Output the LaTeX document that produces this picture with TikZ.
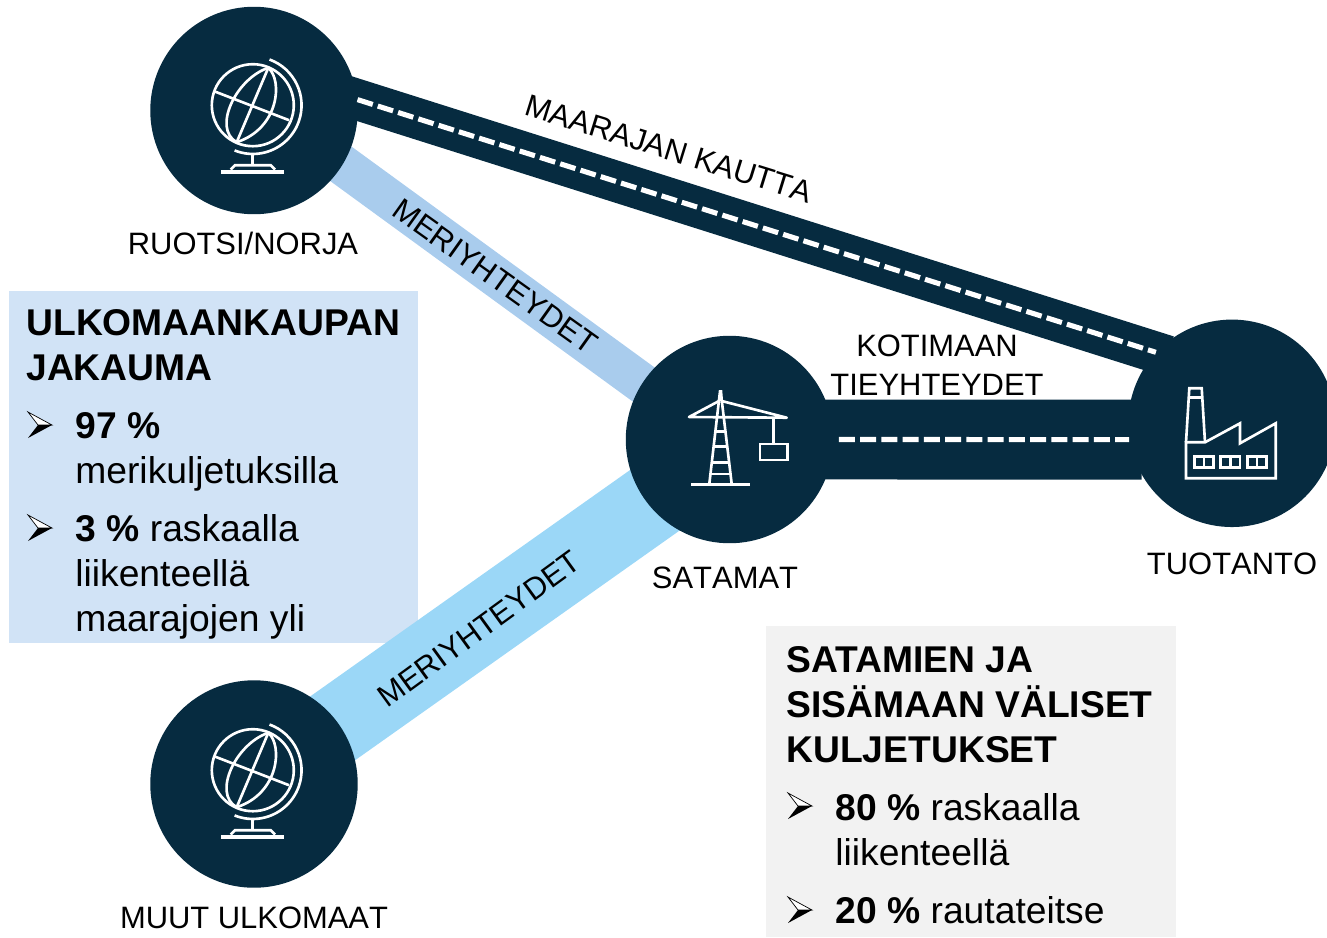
\documentclass[tikz,border=0pt]{standalone}
\usepackage{fontspec}
\setmainfont{Liberation Sans}
\newfontfamily\labelfont[Kerning=Off]{Liberation Sans}
\usetikzlibrary{backgrounds}
\definecolor{navy}{HTML}{062B40}
\definecolor{seablue}{HTML}{A9CCED}
\definecolor{seacyan}{HTML}{9BD7F7}
\definecolor{boxblue}{HTML}{D1E3F6}
\definecolor{boxgray}{HTML}{F2F2F2}
\tikzset{
  hub/.style={circle, fill=navy, minimum size=4.15cm, inner sep=0},
  road/.style={navy, line width=#1, shorten <=-7pt, shorten >=-7pt},
  lane/.style={white, line width=2.9pt, dash pattern=on 9.1pt off 3pt},
  label/.style={font=\labelfont\fontsize{17.6pt}{22pt}\selectfont, inner sep=0, anchor=base},
  tilted/.style={font=\labelfont\fontsize{17.6pt}{22pt}\selectfont, inner sep=0, rotate=#1},
  body/.style={font=\fontsize{21.2pt}{25.6pt}\selectfont, inner sep=0, anchor=base west, align=left},
  icon/.style={white, line width=1.5pt},
  globe/.pic={
      \draw[icon] (-1.2,-5.3) circle [radius=41];
      \draw[icon] (14.3,-42.7) -- (-17.3,31.7);
      \draw[icon] (-40,-19.3) -- (35,9.7);
      \draw[icon] (14.3,-42.7) .. controls (-18,-32) and (-42,18) .. (-17.3,31.7);
      \draw[icon] (14.3,-42.7) .. controls (29,-30) and (25,18) .. (-17.3,31.7);
      \draw[icon] (15.5,-51) arc [start angle=-70, end angle=112, radius=48.7];
      \draw[icon] (-1.3,44) -- (-1.3,54.7);
      \draw[icon] (-23.3,59) -- (-19,54.7) -- (16.7,54.7) -- (21,59);
      \draw[icon, line width=2pt] (-33,61.7) -- (30,61.7);
    },
  crane/.pic={
      \draw[icon] (-20.2,44.5) -- (-10.5,-39.5) -- (-9.5,-48) -- (-8.5,-48) -- (-7.8,-39.5) -- (2.2,44.5);
      \draw[icon] (-38.5,44.8) -- (20.8,44.8);
      \draw[icon, line join=round] (-10.5,-38.5) -- (-40.5,-22.5) -- (57.2,-21.8) -- (-7.8,-38.5);
      \draw[icon] (-14.2,-7.8) -- (-4,-7.8);
      \draw[icon] (-15.9,7.2) -- (-2.2,7.2);
      \draw[icon] (-17.7,23.2) -- (-.3,23.2);
      \draw[icon] (-19,34.5) -- (1,34.5);
      \draw[icon] (43.8,-21.8) -- (43.8,4.5);
      \draw[icon] (30.5,4.5) rectangle (57.8,20.5);
    },
  factory/.pic={
      \draw[icon] (-46,19) -- (-46,55) -- (43.7,55) -- (43.7,0) -- (8,20) -- (8,0) -- (-27,19) -- cycle;
      \draw[icon] (-46,19) -- (-42.7,-35) -- (-30.3,-35) -- (-27,19);
      \draw[icon] (-42.7,-26) -- (-30.3,-26);
      \draw[icon] (-37.7,33.3) rectangle (-18.7,44);
      \draw[icon] (-28.2,33.3) -- (-28.2,44);
      \draw[icon] (-11.3,33.3) rectangle (8,44);
      \draw[icon] (-1.7,33.3) -- (-1.7,44);
      \draw[icon] (15.3,33.3) rectangle (34.7,44);
      \draw[icon] (25,33.3) -- (25,44);
    },
  pointer/.pic={
      \draw[line width=.4pt, fill=white] (0,-13) -- (24,0) -- (10,0) -- cycle;
      \fill (0,13) -- (24,0) -- (10,0) -- cycle;
    },
}
\begin{document}
\begin{tikzpicture}[x=.02cm, y=-.02cm]
  \useasboundingbox (0,0) rectangle (1327,937);

  \node [hub] (ruotsi) at (254,110.5) {};
  \node [hub] (satamat) at (729.5,439.5) {};
  \node [hub] (tuotanto) at (1232,423.3) {};
  \node [hub] (muut) at (254,784) {};

  % boxes and sea links stay under the hubs
  \begin{scope}[on background layer]
    \node [fill=boxblue, inner sep=0, minimum width=8.17cm, minimum height=7.03cm] (tradebox) at (213.4,466.8) {};
    \node [fill=boxgray, inner sep=0, minimum width=8.2cm, minimum height=6.22cm] (inlandbox) at (971,781.5) {};
    \draw [seablue, line width=23pt] ([yshift=5.7pt]ruotsi.center) -- ([yshift=-4.3pt]satamat.center);
    \draw [seacyan, line width=44.4pt] (muut.center) -- ([yshift=-4.5pt]satamat.center);
  \end{scope}

  \draw [road=23.4pt] (ruotsi.6) -- (tuotanto.137);
  \draw [lane] (ruotsi.6) -- (tuotanto.137);
  \draw [road=45.5pt] (satamat.0) -- (tuotanto.189);
  \draw [lane, shorten <=3pt] (satamat.0) -- (tuotanto.189);

  \pic at (ruotsi.center) {globe};
  \pic at (254,775.5) {globe};
  \pic at (satamat.center) {crane};
  \pic at (tuotanto.center) {factory};

  \node [label] (ruotsilabel) at (243,254) {RUOTSI/NORJA};
  \node [label] (satamatlabel) at (725,588) {SATAMAT};
  \node [label] (tuotantolabel) at (1232,574) {TUOTANTO};
  \node [label] (muutlabel) at (254,928) {MUUT ULKOMAAT};
  \node [label, align=center] (kotimaa) at (937,395) {KOTIMAAN\\TIEYHTEYDET};

  \node [tilted=-17.2] (maaraja) at (669,149) {MAARAJAN KAUTTA};
  \node [tilted=-35.5] (merinorth) at (495,276) {MERIYHTEYDET};
  \node [tilted=36] (merisouth) at (479,629) {MERIYHTEYDET};

  \node [body] (tradetitle) at (26,380) {\textbf{ULKOMAANKAUPAN}\\\textbf{JAKAUMA}};
  \pic at (28,425) {pointer};
  \node [body] (tradesea) at (75,483) {\textbf{97 \%}\\merikuljetuksilla};
  \pic at (28,528) {pointer};
  \node [body] (traderoad) at (75,631) {\textbf{3 \%} raskaalla\\liikenteellä\\maarajojen yli};

  \node [body] (inlandtitle) at (786,762) {\textbf{SATAMIEN JA}\\\textbf{SISÄMAAN VÄLISET}\\\textbf{KULJETUKSET}};
  \pic at (788,806) {pointer};
  \node [body] (inlandroad) at (835,865) {\textbf{80 \%} raskaalla\\liikenteellä};
  \pic at (788,910) {pointer};
  \node [body] (inlandrail) at (835,923) {\textbf{20 \%} rautateitse};
\end{tikzpicture}
\end{document}
